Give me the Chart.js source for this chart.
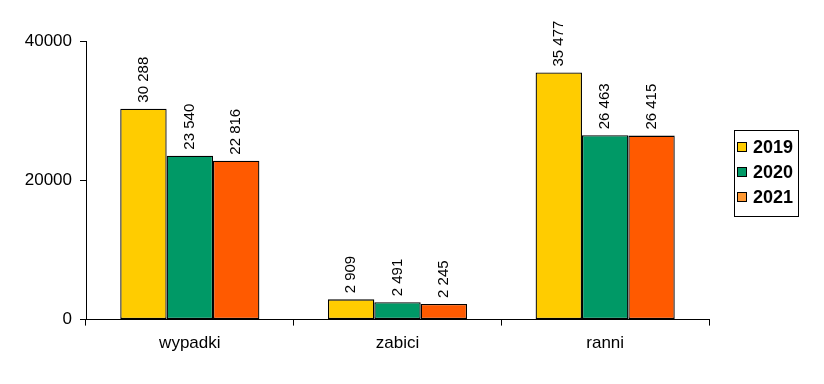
<!DOCTYPE html>
<html>
<head>
<meta charset="utf-8">
<script src="https://cdn.jsdelivr.net/npm/chart.js@4/dist/chart.umd.min.js"></script>
<style>
	html, body { margin: 0; padding: 0; background: #fff; }
	div.view { width: 824px; height: 384px; }
</style>
</head>
<body>
<div class="view"><canvas id="chart" width="824" height="384"></canvas></div>
<script>
let categories = ['wypadki', 'zabici', 'ranni'];
let years = ['2019', '2020', '2021'];
let values_2019 = [30288, 2909, 35477];
let values_2020 = [23540, 2491, 26463];
let values_2021 = [22816, 2245, 26415];
let bar_colors = ['#ffcc00', '#009966', '#ff5a00'];
let legend_colors = ['#ffcc00', '#009966', '#ff9933'];
let y_ticks = [0, 20000, 40000];

let font_family = "'Liberation Sans', Arial, sans-serif";

function formatValue(value)
{
	return String(value).replace(/\B(?=(\d{3})+(?!\d))/g, ' ');
}

// rotated value labels above each bar
let valueLabels = {
	id: 'valueLabels',
	afterDatasetsDraw: function(chart)
	{
		let ctx = chart.ctx;
		ctx.save();
		ctx.font = '15px ' + font_family;
		ctx.fillStyle = '#000';
		ctx.textAlign = 'left';
		ctx.textBaseline = 'middle';
		chart.data.datasets.forEach(function(ds, i)
		{
			let meta = chart.getDatasetMeta(i);
			meta.data.forEach(function(bar, j)
			{
				ctx.save();
				ctx.translate(bar.x, bar.y - 6);
				ctx.rotate(-Math.PI / 2);
				ctx.fillText(formatValue(ds.data[j]), 0, 0);
				ctx.restore();
			});
		});
		ctx.restore();
	}
};

// framed legend to the right of the plot
let boxLegend = {
	id: 'boxLegend',
	afterDraw: function(chart)
	{
		let ctx = chart.ctx;
		let area = chart.chartArea;
		let left = area.right + 25;
		let width = 64;
		let step = 25;
		let height = 86;
		let top = (area.top + area.bottom) / 2 - 7 - height / 2;
		ctx.save();
		ctx.strokeStyle = '#000';
		ctx.lineWidth = 1;
		ctx.strokeRect(Math.round(left) + 0.5, Math.round(top) + 0.5, width, height);
		ctx.font = 'bold 18px ' + font_family;
		ctx.textAlign = 'left';
		ctx.textBaseline = 'middle';
		chart.data.datasets.forEach(function(ds, i)
		{
			let cy = Math.round(top + 17 + i * step);
			ctx.fillStyle = legend_colors[i];
			ctx.fillRect(Math.round(left) + 3.5, cy - 4.5, 9, 9);
			ctx.strokeRect(Math.round(left) + 3.5, cy - 4.5, 9, 9);
			ctx.fillStyle = '#000';
			ctx.fillText(ds.label, left + 19, cy + 1);
		});
		ctx.restore();
	}
};

let chart = new Chart(document.getElementById('chart'),
	{
		type: 'bar',
		data:
			{
				labels: categories,
				datasets: [
					{ label: years[0], data: values_2019, backgroundColor: bar_colors[0] },
					{ label: years[1], data: values_2020, backgroundColor: bar_colors[1] },
					{ label: years[2], data: values_2021, backgroundColor: bar_colors[2] }
				]
			},
		options:
			{
				responsive: false,
				animation: false,
				datasets:
					{
						bar:
							{
								borderColor: '#000',
								borderWidth: 1.3,
								borderSkipped: false,
								categoryPercentage: 0.67,
								barPercentage: 1.0
							}
					},
				layout:
					{
						padding: { left: 0, top: 41, right: 115, bottom: 22 }
					},
				plugins:
					{
						legend: { display: false },
						tooltip: { enabled: false }
					},
				scales:
					{
						x:
							{
								grid:
									{
										drawOnChartArea: false,
										drawTicks: true,
										tickLength: 6,
										color: '#000'
									},
								border: { display: true, color: '#000', width: 1 },
								ticks:
									{
										color: '#000',
										padding: 8,
										font: { family: font_family, size: 17 }
									}
							},
						y:
							{
								min: y_ticks[0],
								max: y_ticks[y_ticks.length - 1],
								afterBuildTicks: function(scale)
								{
									scale.ticks = y_ticks.map(function(v) { return { value: v }; });
								},
								afterFit: function(scale)
								{
									scale.width = 86;
								},
								grid:
									{
										drawOnChartArea: false,
										drawTicks: true,
										tickLength: 6,
										color: '#000'
									},
								border: { display: true, color: '#000', width: 1 },
								ticks:
									{
										color: '#000',
										padding: 8,
										font: { family: font_family, size: 17 },
										callback: function(value) { return String(value); }
									}
							}
					}
			},
		plugins: [valueLabels, boxLegend]
	});
</script>
</body>
</html>
